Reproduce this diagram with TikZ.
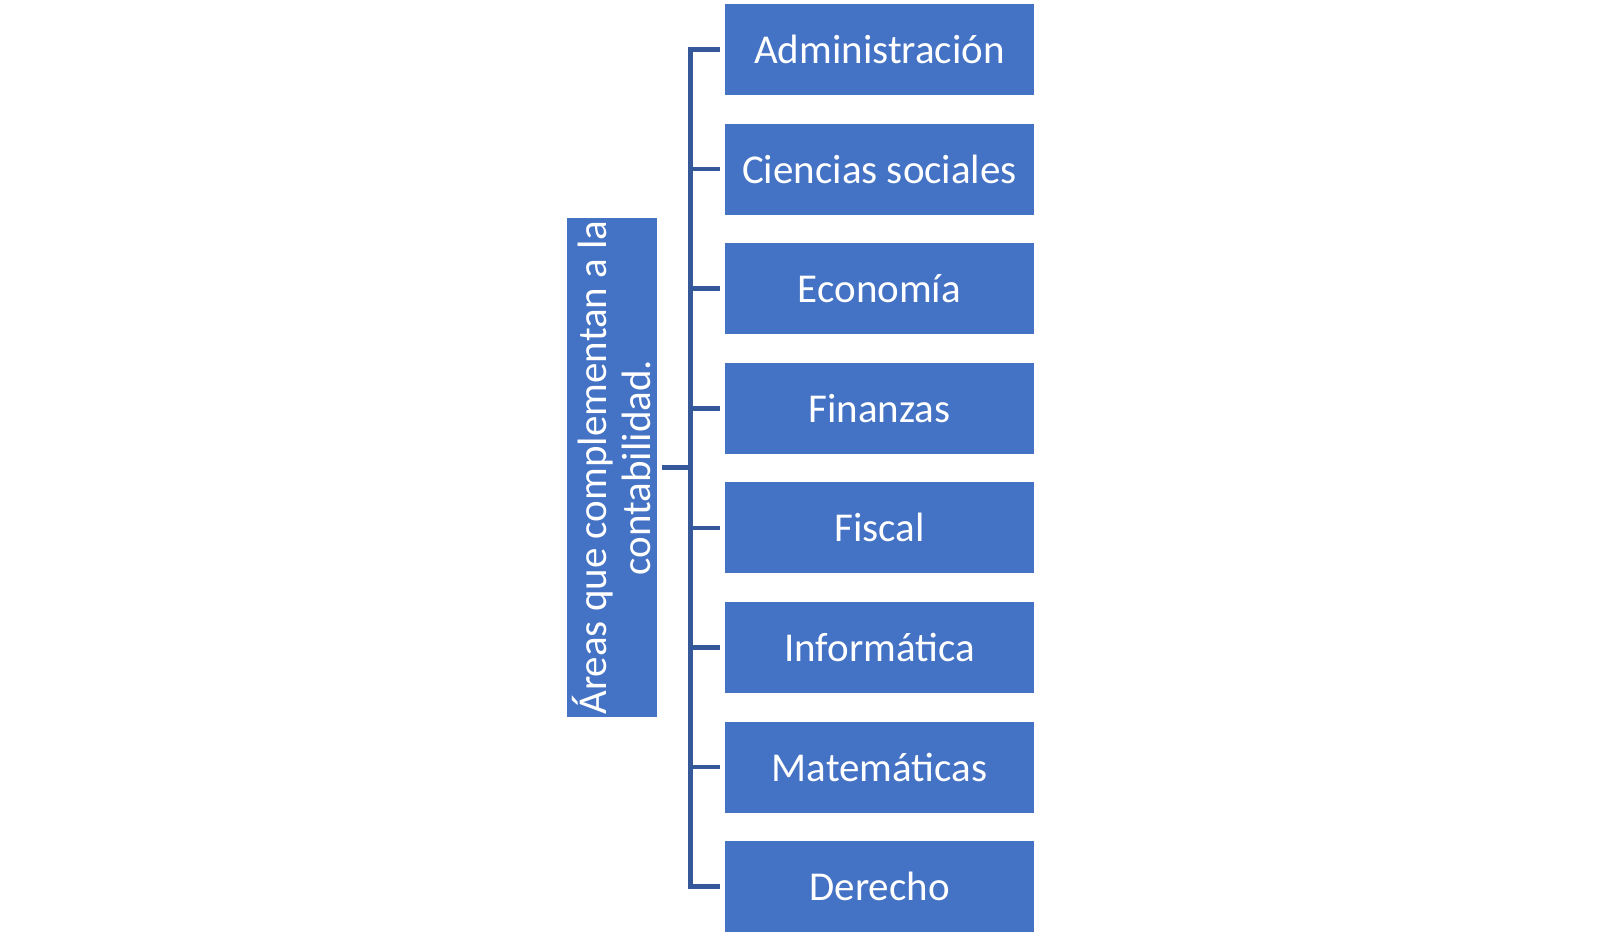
\documentclass[tikz,border=0pt]{standalone}
\usepackage{fontspec}
\setmainfont{Carlito}
\definecolor{boxblue}{HTML}{4472C4}
\definecolor{lineblue}{HTML}{35589A}
\begin{document}
\begin{tikzpicture}[x=1pt,y=-1pt,
  areabox/.style={rectangle, fill=boxblue, text=white, inner sep=0pt,
    minimum width=309pt, minimum height=91pt,
    font=\fontsize{41}{50}\selectfont},
  titlebox/.style={rectangle, fill=boxblue, text=white, inner sep=0pt,
    minimum width=499pt, minimum height=90pt, rotate=90, align=center,
    font=\fontsize{41}{44}\selectfont},
  conn/.style={draw=lineblue, line width=4.5pt}]
\useasboundingbox (0,0) rectangle (1600,936);
\node[titlebox] (L) at (612,467.5) {Áreas que complementan a la\\contabilidad.};
\node[areabox] (b1) at (879.5,49.5) {Administración};
\node[areabox] (b2) at (879.5,169.1) {Ciencias sociales};
\node[areabox] (b3) at (879.5,288.7) {Economía};
\node[areabox] (b4) at (879.5,408.3) {Finanzas};
\node[areabox] (b5) at (879.5,527.9) {Fiscal};
\node[areabox] (b6) at (879.5,647.5) {Informática};
\node[areabox] (b7) at (879.5,767.1) {Matemáticas};
\node[areabox] (b8) at (879.5,886.7) {Derecho};
\coordinate (j) at (690.5,467.5);
\draw[conn, shorten <=5pt] (L.south) -- (j);
\draw[conn, line cap=rect] (j |- b1.west) -- (j |- b8.west);
\foreach \i in {1,...,8}{
  \draw[conn, shorten >=5pt] (j |- b\i.west) -- (b\i.west);
}
\end{tikzpicture}
\end{document}
